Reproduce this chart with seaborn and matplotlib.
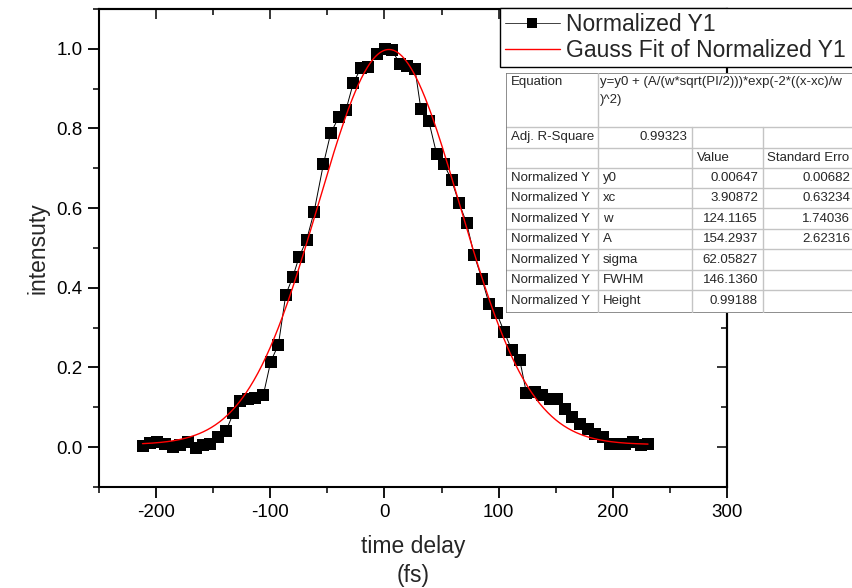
import numpy as np
import pandas as pd
import matplotlib
matplotlib.use('Agg')
import matplotlib.pyplot as plt
import seaborn as sns
from matplotlib.ticker import FixedLocator, FixedFormatter
from matplotlib.patches import Rectangle

# ---------------- data ----------------
time_delay = [-211.9, -205.2, -198.8, -192.1, -185.3, -179.0, -172.2, -165.2, -159.1, -152.7,
              -145.4, -138.7, -132.3, -126.4, -119.7, -113.3, -106.0, -99.6, -92.9, -86.4,
              -80.3, -74.8, -68.2, -61.7, -53.5, -47.1, -40.1, -33.7, -27.3, -20.8,
              -14.2, -6.8, 0.4, 6.3, 13.6, 19.4, 26.7, 31.9, 38.9, 45.7,
              52.3, 58.8, 65.2, 71.9, 78.6, 85.3, 91.7, 98.2, 104.8, 111.5,
              118.5, 124.4, 131.7, 138.4, 144.8, 151.5, 157.9, 164.3, 171.0, 178.3,
              184.8, 191.4, 197.9, 204.5, 211.0, 217.7, 224.4, 230.8]
normalized_y1 = [0.003, 0.011, 0.013, 0.009, 0.001, 0.005, 0.013, -0.001, 0.005, 0.009,
                 0.026, 0.041, 0.086, 0.116, 0.122, 0.124, 0.132, 0.215, 0.257, 0.383,
                 0.427, 0.477, 0.520, 0.590, 0.710, 0.788, 0.828, 0.847, 0.914, 0.951,
                 0.955, 0.987, 1.000, 0.998, 0.962, 0.958, 0.950, 0.849, 0.818, 0.736,
                 0.710, 0.670, 0.614, 0.563, 0.482, 0.423, 0.359, 0.337, 0.290, 0.244,
                 0.219, 0.135, 0.139, 0.131, 0.121, 0.121, 0.097, 0.076, 0.059, 0.045,
                 0.034, 0.026, 0.009, 0.009, 0.007, 0.013, 0.005, 0.007]

# Gauss fit parameters (from the fit table)
fit_y0 = 0.00647
fit_xc = 3.90872
fit_w = 124.1165
fit_A = 154.2937

x_ticks = [-200, -100, 0, 100, 200, 300]
x_tick_labels = ['-200', '-100', '0', '100', '200', '300']
x_minor = [-250, -150, -50, 50, 150, 250]
y_ticks = [0.0, 0.2, 0.4, 0.6, 0.8, 1.0]
y_tick_labels = ['0.0', '0.2', '0.4', '0.6', '0.8', '1.0']
y_minor = [-0.1, 0.1, 0.3, 0.5, 0.7, 0.9, 1.1]

series_labels = ['Normalized Y1', 'Gauss Fit of Normalized Y1']

equation_text = ['y=y0 + (A/(w*sqrt(PI/2)))*exp(-2*((x-xc)/w', ')^2)']
adj_r2 = '0.99323'
table_header = ['Value', 'Standard Erro']
table_rowname = 'Normalized Y'
table_params = ['y0', 'xc', 'w', 'A', 'sigma', 'FWHM', 'Height']
table_values = ['0.00647', '3.90872', '124.1165', '154.2937', '62.05827', '146.1360', '0.99188']
table_errors = ['0.00682', '0.63234', '1.74036', '2.62316', '', '', '']

# ---------------- style ----------------
sns.set_style('ticks')
plt.rcParams['font.family'] = ['Liberation Sans', 'DejaVu Sans']

W, H = 853, 588
fig = plt.figure(figsize=(W / 100, H / 100), dpi=100)
ax = fig.add_axes([99 / W, 1 - 487 / H, (727 - 99) / W, (487 - 9) / H])

df = pd.DataFrame({'time delay': time_delay, 'intensity': normalized_y1})
sns.lineplot(data=df, x='time delay', y='intensity', ax=ax, color='black', lw=0.7,
             marker='s', markersize=8.0, markerfacecolor='black', markeredgecolor='black',
             markeredgewidth=0, sort=False, estimator=None, label=series_labels[0])

xf = np.linspace(min(time_delay), max(time_delay), 500)
yf = fit_y0 + fit_A / (fit_w * np.sqrt(np.pi / 2)) * np.exp(-2 * ((xf - fit_xc) / fit_w) ** 2)
sns.lineplot(x=xf, y=yf, ax=ax, color='red', lw=1.0, sort=False, estimator=None,
             label=series_labels[1])

ax.set_xlim(-250, 300)
ax.set_ylim(-0.1, 1.1)
ax.xaxis.set_major_locator(FixedLocator(x_ticks))
ax.xaxis.set_major_formatter(FixedFormatter(x_tick_labels))
ax.xaxis.set_minor_locator(FixedLocator(x_minor))
ax.yaxis.set_major_locator(FixedLocator(y_ticks))
ax.yaxis.set_major_formatter(FixedFormatter(y_tick_labels))
ax.yaxis.set_minor_locator(FixedLocator(y_minor))

ax.tick_params(which='major', direction='out', length=8, width=1.3, labelsize=13.5, pad=4,
               colors='black')
ax.tick_params(which='minor', direction='out', length=4.5, width=1.3)
for s in ax.spines.values():
    s.set_linewidth(1.5)
    s.set_color('black')
    s.set_visible(True)

# inward ticks on top and right
sx = ax.secondary_xaxis('top')
sx.xaxis.set_major_locator(FixedLocator(x_ticks))
sx.xaxis.set_minor_locator(FixedLocator(x_minor))
sx.tick_params(which='major', direction='in', length=7, width=1.3, labeltop=False)
sx.tick_params(which='minor', direction='in', length=4, width=1.3)
sx.spines['top'].set_linewidth(1.5)
sy = ax.secondary_yaxis('right')
sy.yaxis.set_major_locator(FixedLocator(y_ticks))
sy.yaxis.set_minor_locator(FixedLocator(y_minor))
sy.tick_params(which='major', direction='in', length=7, width=1.3, labelright=False)
sy.tick_params(which='minor', direction='in', length=4, width=1.3)
sy.spines['right'].set_linewidth(1.5)

ax.set_xlabel('time delay\n(fs)', fontsize=16.5, labelpad=10, linespacing=1.35)
ax.set_ylabel('intensuty', fontsize=16.5, labelpad=5)

# legend (frame runs past the right edge of the figure, as in the original)
handles, labels = ax.get_legend_handles_labels()
if ax.get_legend() is not None:
    ax.get_legend().remove()
leg = fig.legend(handles, labels, loc='upper left',
                 bbox_to_anchor=(500 / W, 1 - 8 / H - 0.5, 380 / W, 0.5), mode='expand',
                 bbox_transform=fig.transFigure, frameon=True, fancybox=False,
                 edgecolor='black', framealpha=1, fontsize=16.5, handlelength=2.4,
                 handletextpad=0.3, borderpad=0.2, labelspacing=0.17, borderaxespad=0,
                 numpoints=1)
leg.get_frame().set_linewidth(1.0)
leg.legend_handles[0].set_markersize(6.5)
leg.legend_handles[0].set_color('#404040')
leg.legend_handles[0].set_markerfacecolor('black')
leg.legend_handles[0].set_markeredgecolor('black')

# ---------------- fit table ----------------
tx0, tx1 = 506, 900
ty0, ty1 = 73, 313
tax = fig.add_axes([tx0 / W, 1 - ty1 / H, (tx1 - tx0) / W, (ty1 - ty0) / H], zorder=3)
tax.set_xlim(tx0, tx1)
tax.set_ylim(ty1, ty0)
tax.axis('off')
tax.add_patch(Rectangle((tx0, ty0), tx1 - tx0, ty1 - ty0, facecolor='white', edgecolor='none',
                        zorder=0))

cols = [506, 598, 692, 763, 880]
rows = [73, 126.7, 147.7, 167.7, 188.3, 208.3, 229.3, 249.3, 270, 290, 312.5]
inner = '#c4c4c4'
outer = '#7a7a7a'
# horizontal lines
for i, yv in enumerate(rows):
    c = outer if i in (0, len(rows) - 1) else inner
    tax.plot([cols[0], cols[-1]], [yv, yv], color=c, lw=1.2 if c == outer else 1.0, zorder=2)
# vertical lines
for j, xv in enumerate(cols):
    c = outer if j in (0, len(cols) - 1) else inner
    ystart = rows[0] if j in (0, 1, len(cols) - 1) else rows[1]
    tax.plot([xv, xv], [ystart, rows[-1]], color=c, lw=1.2 if c == outer else 1.0, zorder=2)

fs = 9.5
pad = 5
err_right = 850
# equation row
tax.text(cols[0] + pad, 81.7, 'Equation', fontsize=fs, va='center', ha='left')
tax.text(cols[1] + pad - 3, 81.7, equation_text[0], fontsize=fs, va='center', ha='left')
tax.text(cols[1] + pad - 3, 100, equation_text[1], fontsize=fs, va='center', ha='left')


def rc(i):
    return (rows[i] + rows[i + 1]) / 2


tax.text(cols[0] + pad, rc(1), 'Adj. R-Square', fontsize=fs, va='center', ha='left')
tax.text(cols[2] - pad, rc(1), adj_r2, fontsize=fs, va='center', ha='right')
tax.text(cols[2] + pad, rc(2), table_header[0], fontsize=fs, va='center', ha='left')
tax.text(cols[3] + pad - 1, rc(2), table_header[1], fontsize=fs, va='center', ha='left')
for k in range(len(table_params)):
    r = 3 + k
    tax.text(cols[0] + pad, rc(r), table_rowname, fontsize=fs, va='center', ha='left')
    tax.text(cols[1] + pad, rc(r), table_params[k], fontsize=fs, va='center', ha='left')
    tax.text(cols[3] - pad, rc(r), table_values[k], fontsize=fs, va='center', ha='right')
    if table_errors[k]:
        tax.text(err_right, rc(r), table_errors[k], fontsize=fs, va='center', ha='right')

fig.savefig('out.png', dpi=100)
